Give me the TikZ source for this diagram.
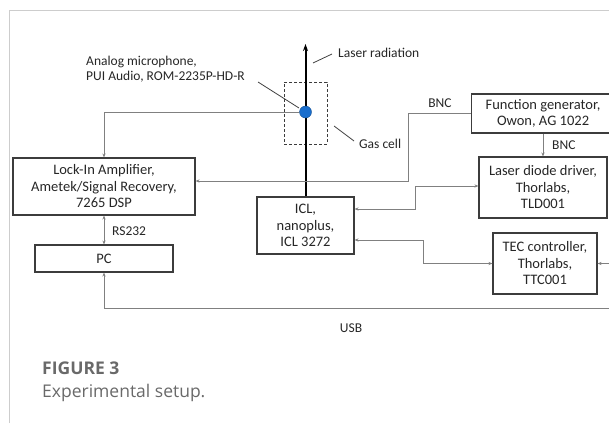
\documentclass[tikz,border=0pt]{standalone}
\usepackage{fontspec}
\setmainfont{Carlito}
\newfontfamily\capfont{Open Sans}
\usetikzlibrary{arrows.meta}
\definecolor{lineG}{RGB}{128,128,128}
\definecolor{boxK}{RGB}{60,60,60}
\definecolor{capG}{RGB}{105,105,105}
\definecolor{frameG}{RGB}{205,205,205}
\definecolor{micB}{RGB}{25,110,205}

\begin{document}
\begin{tikzpicture}[x=1pt,y=-1pt,>={Stealth[length=4pt,width=3.2pt]},
  unit/.style={draw=boxK,line width=1.1pt,align=center,inner sep=0pt,text=black!85,font=\fontsize{14.5}{16.5}\selectfont},
  wire/.style={lineG,line width=0.9pt},
  lead/.style={black!75,line width=0.8pt},
  lbl/.style={inner sep=0pt,text=black!85,font=\fontsize{13.5}{15}\selectfont},
  captxt/.style={anchor=west,inner sep=0pt,text=capG}]
\useasboundingbox (0,0) rectangle (609,423);
\draw[frameG,line width=1pt] (9,423)--(9,10)--(609,10);
% instruments
\node[unit,minimum width=182pt,minimum height=57pt] (lia) at (104,186.5) {Lock-In Amplifier,\\Ametek/Signal Recovery,\\7265 DSP};
\node[unit,minimum width=138pt,minimum height=27pt] (pc) at (104,258.5) {PC};
\node[unit,minimum width=97pt,minimum height=57pt] (icl) at (305.5,225.5) {ICL,\\nanoplus,\\ICL 3272};
\node[unit,minimum width=143pt,minimum height=39pt,anchor=west] (fg) at (471,113.5) {Function generator,\\Owon, AG 1022};
\node[unit,minimum width=128pt,minimum height=61pt] (ldd) at (543,187.5) {Laser diode driver,\\Thorlabs,\\TLD001};
\node[unit,minimum width=104pt,minimum height=61pt] (tec) at (545,263.5) {TEC controller,\\Thorlabs,\\TTC001};
% gas cell, beam and microphone
\node[draw=boxK,line width=0.9pt,dash pattern=on 3pt off 2pt,minimum width=43pt,minimum height=62pt] (cell) at (305.5,113) {};
\coordinate (beam) at (305.5,44);
\draw[line width=2pt,-{Stealth[length=7pt,width=5pt]}] (icl.north)--(beam);
\node[circle,fill=micB,draw=micB!70!black,line width=0.4pt,minimum size=12pt,inner sep=0pt] (mic) at (305.5,112) {};
% labels
\node[lbl,anchor=west] (lasertxt) at (338,53) {Laser radiation};
\node[lbl,anchor=west,align=left] (mictxt) at (86,69.5) {Analog microphone,\\PUI Audio, ROM-2235P-HD-R};
\node[lbl,anchor=west] (gastxt) at (359,144) {Gas cell};
\node[lbl] (bnca) at (440,103) {BNC};
\node[lbl,anchor=west] (bncb) at (552,145) {BNC};
\node[lbl,anchor=west] (rstxt) at (112,231) {RS232};
\node[lbl] (usbtxt) at (351,328) {USB};
\draw[lead] (313,63)--(332,54);
\draw[lead] (258,82)--(299,108);
\draw[lead] (334,126)--(354,141);
% signal lines
\draw[wire,->] (mic.west) -| (lia.north);
\coordinate (bend) at (408,113.5);
\draw[wire,->] (fg.west) -- (bend) |- ([yshift=5.5pt]lia.east);
\draw[wire,->] (fg.south-|ldd.north) -- (ldd.north);
\draw[wire,<->] ([yshift=16.5pt]icl.east) -- (415,209) |- ([yshift=1.5pt]ldd.west);
\draw[wire,<->] ([yshift=-14.5pt]icl.east) -- (423,240) |- (tec.west);
\draw[wire,<->] (lia.south) -- (pc.north);
\coordinate (usbend) at (620,308);
\draw[wire,<->] (pc.south) |- (usbend) |- (tec.east);
% caption
\node[captxt,font=\capfont\bfseries\fontsize{17.5}{20}\selectfont] (fig) at (42,368) {FIGURE 3};
\node[captxt,font=\capfont\fontsize{17.5}{20}\selectfont] (figcap) at (42,393) {Experimental setup.};
\end{tikzpicture}
\end{document}
